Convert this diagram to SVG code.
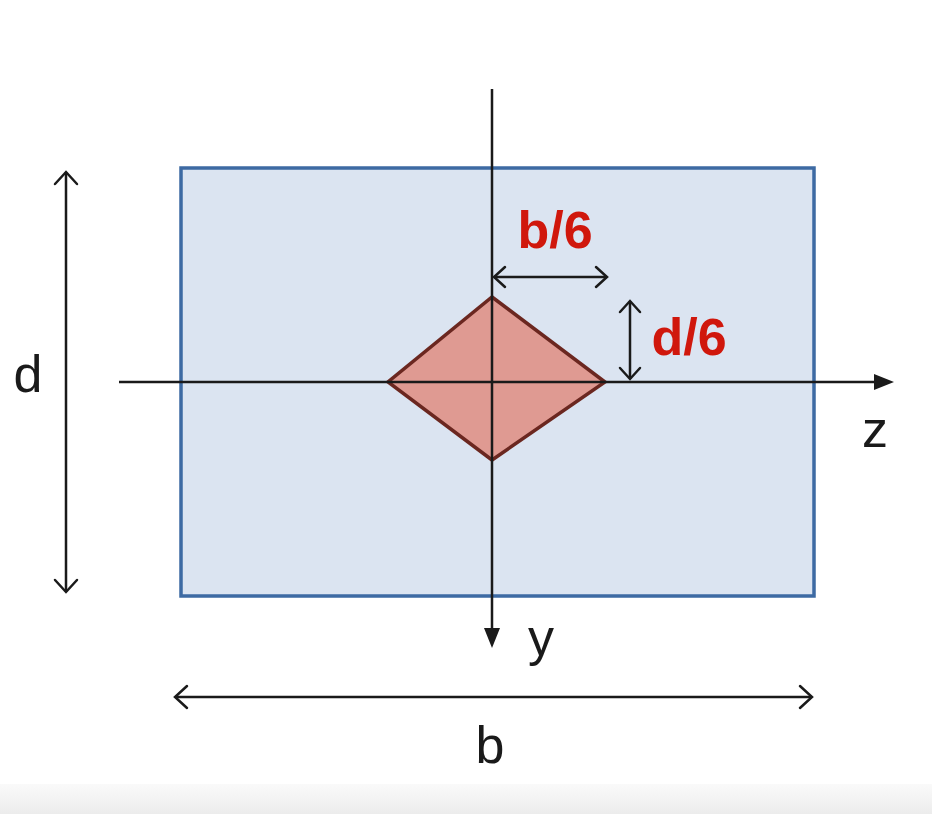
<svg xmlns="http://www.w3.org/2000/svg" width="932" height="814" viewBox="0 0 932 814">
<defs>
<style>
.lbl{font-family:"Liberation Sans",Arial,sans-serif;font-size:52px;fill:#1a1a1a}
.red{font-family:"Liberation Sans",Arial,sans-serif;font-size:52px;font-weight:bold;fill:#d0170c}
.ax{stroke:#1a1a1a;stroke-width:2.5;fill:none}
.dim{stroke:#1a1a1a;stroke-width:2.5;fill:none}
.chev{stroke:#1a1a1a;stroke-width:2.5;fill:none;stroke-linecap:round;stroke-linejoin:miter}
</style>
<linearGradient id="band" x1="0" y1="0" x2="0" y2="1">
<stop offset="0" stop-color="#fafafa"/>
<stop offset="1" stop-color="#ececec"/>
</linearGradient>
</defs>
<rect width="932" height="814" fill="#ffffff"/>
<rect x="0" y="784" width="932" height="30" fill="url(#band)"/>
<g id="section">
<rect x="181" y="168" width="633" height="428" fill="#dbe4f1" stroke="#3d6aa3" stroke-width="3.5"/>
</g>
<g id="kern">
<polygon points="492,297 605,382 492,460 388,382" fill="#df9a92" stroke="#6b2720" stroke-width="3.5" stroke-linejoin="miter"/>
</g>
<g id="connectors">
<line class="ax" x1="119" y1="382" x2="878" y2="382"/>
<polygon points="894,382 874,374 874,390" fill="#1a1a1a"/>
<line class="ax" x1="492" y1="89" x2="492" y2="632"/>
<polygon points="492,648 484,628 500,628" fill="#1a1a1a"/>
<line class="dim" x1="66" y1="172" x2="66" y2="592"/>
<polyline class="chev" points="55,184 66,172 77,184"/>
<polyline class="chev" points="55,580 66,592 77,580"/>
<line class="dim" x1="175" y1="697" x2="812" y2="697"/>
<polyline class="chev" points="187,686 175,697 187,708"/>
<polyline class="chev" points="800,686 812,697 800,708"/>
<line class="dim" x1="494" y1="277" x2="607" y2="277"/>
<polyline class="chev" points="505,267 494,277 505,287"/>
<polyline class="chev" points="596,267 607,277 596,287"/>
<line class="dim" x1="630" y1="301" x2="630" y2="379"/>
<polyline class="chev" points="620,312 630,301 640,312"/>
<polyline class="chev" points="620,368 630,379 640,368"/>
</g>
<g id="labels">
<text class="lbl" x="28" y="392" text-anchor="middle">d</text>
<text class="lbl" x="490" y="763" text-anchor="middle">b</text>
<text class="lbl" x="541" y="655" text-anchor="middle">y</text>
<text class="lbl" x="875" y="447" text-anchor="middle">z</text>
<text class="red" x="555" y="248" text-anchor="middle">b/6</text>
<text class="red" x="689" y="355" text-anchor="middle">d/6</text>
</g>
</svg>
